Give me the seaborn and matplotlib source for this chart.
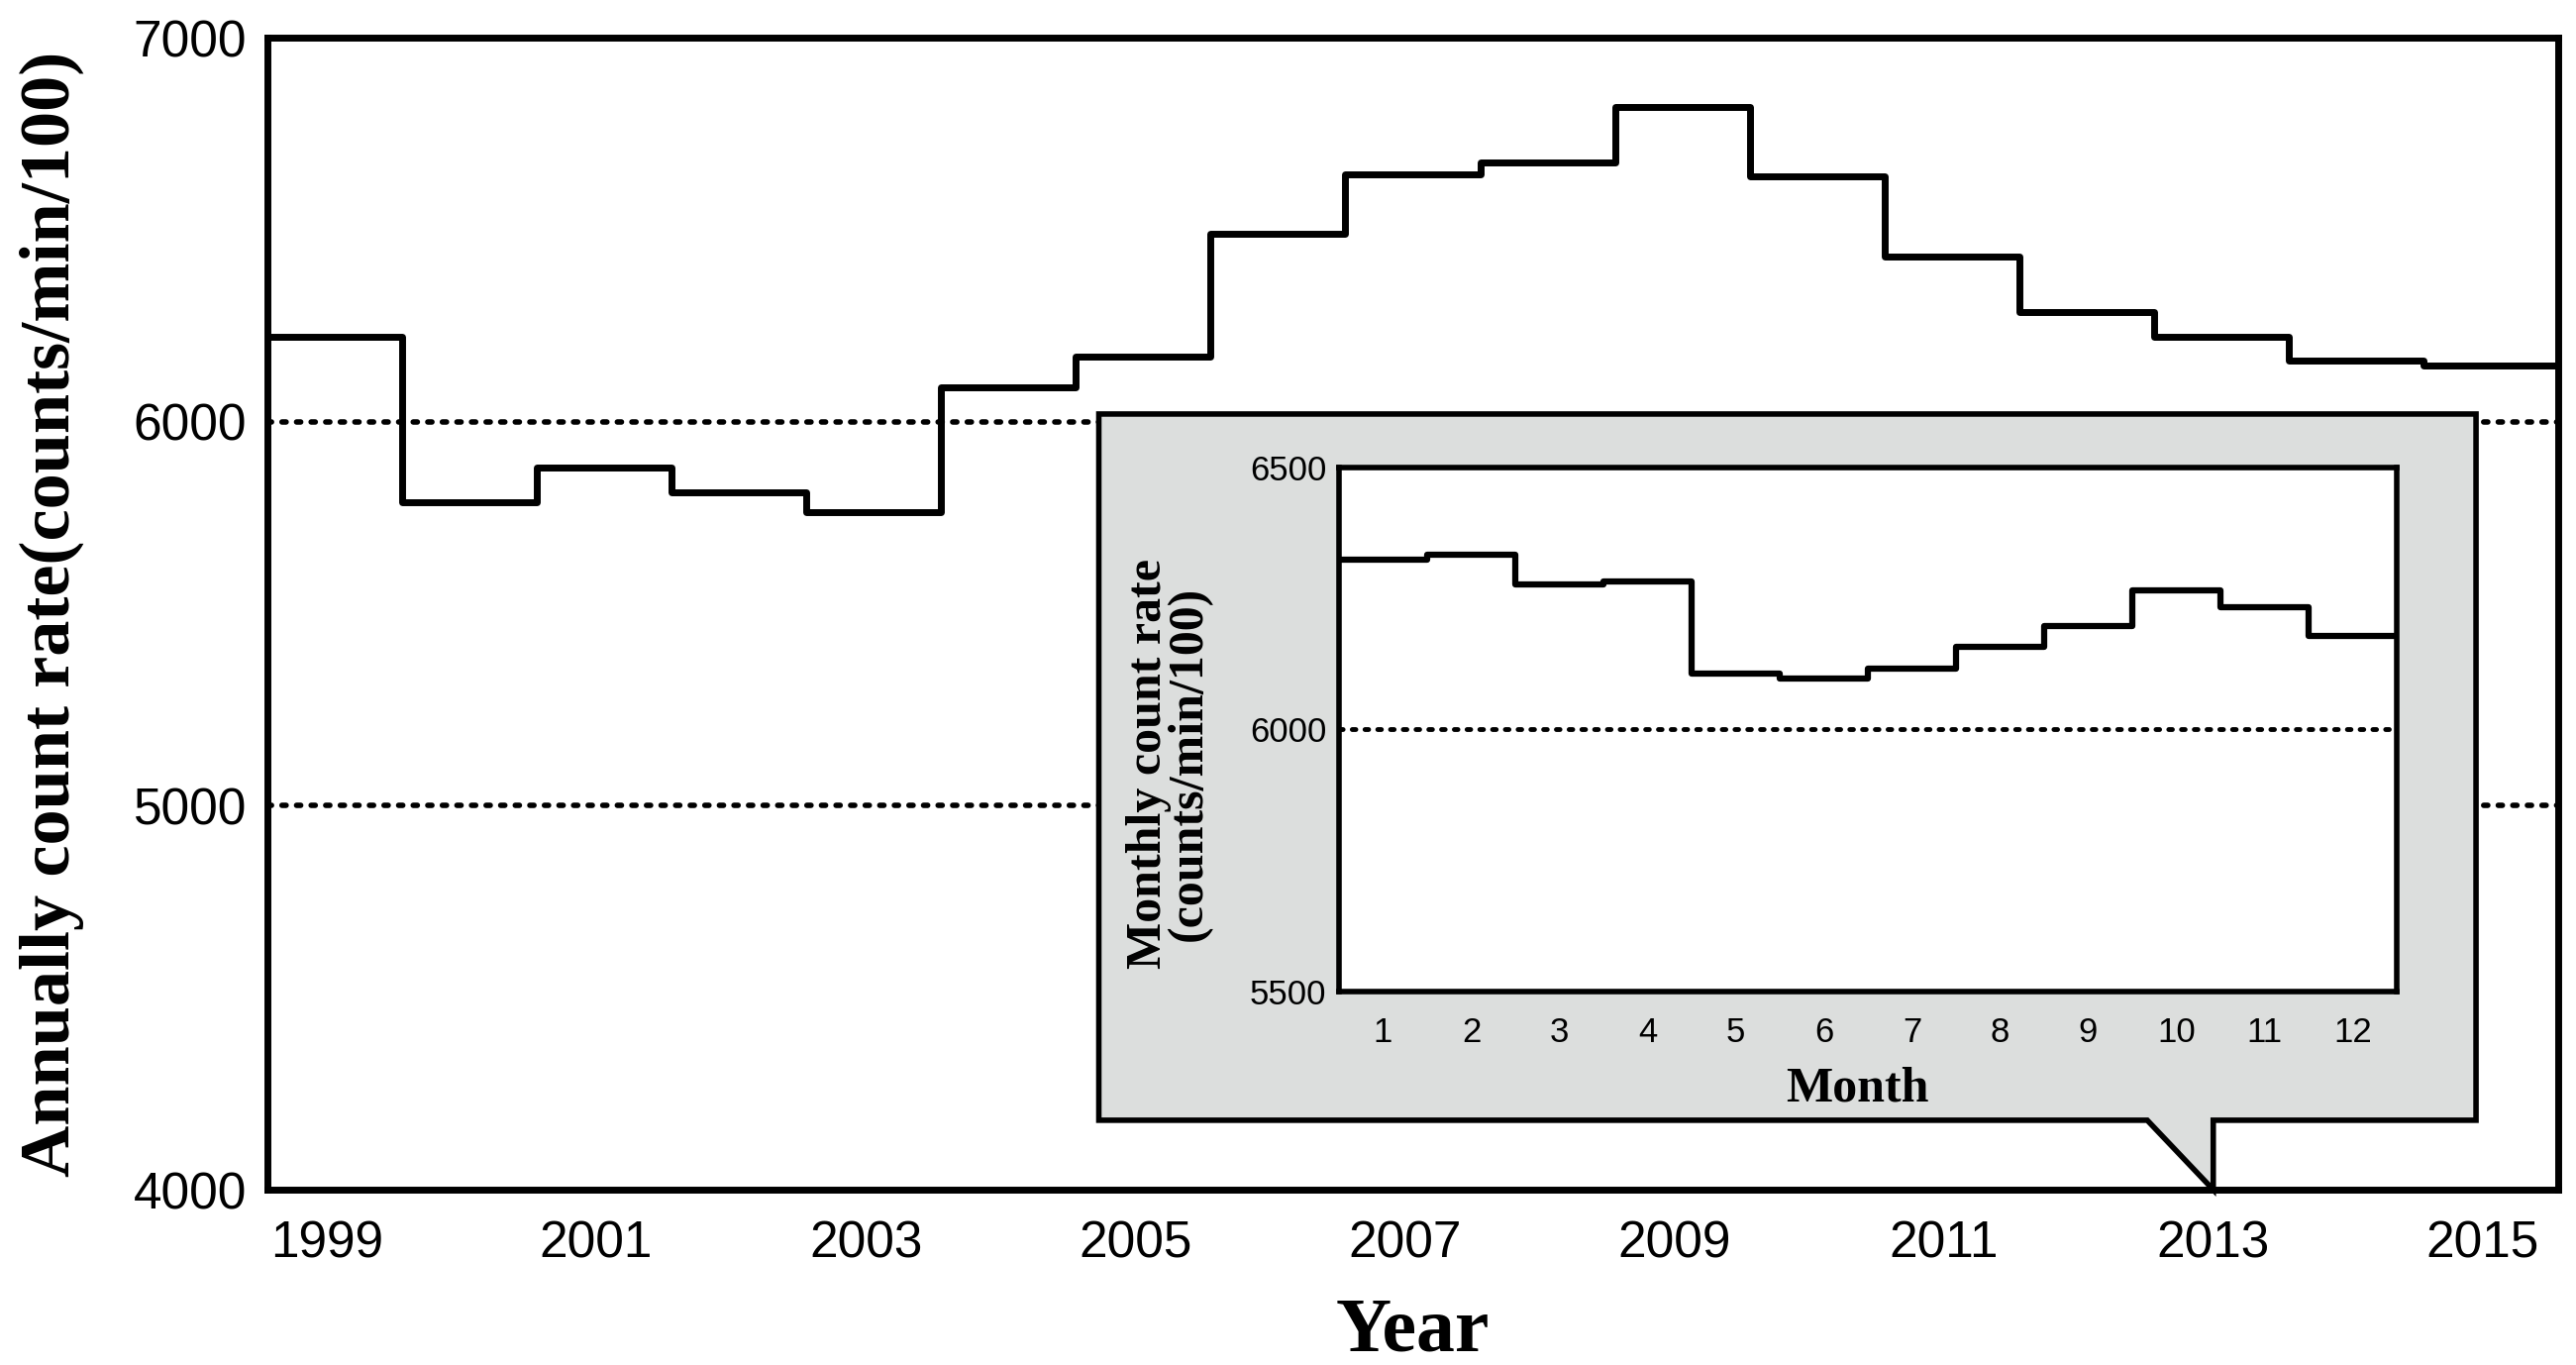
import matplotlib
matplotlib.use("Agg")
import matplotlib.pyplot as plt
from matplotlib.patches import Polygon
import pandas as pd
import seaborn as sns

YEARS = list(range(1999, 2016))
ANNUAL_RATE = [6220, 5790, 5880, 5815, 5765, 6090, 6170, 6490, 6645, 6675,
               6820, 6640, 6430, 6285, 6220, 6160, 6145]
YEAR_TICKS = list(range(1999, 2016, 2))
ANNUAL_YTICKS = [4000, 5000, 6000, 7000]
ANNUAL_REFS = [5000, 6000]

MONTHS = list(range(1, 13))
MONTHLY_RATE = [6325, 6333, 6276, 6282, 6106, 6097, 6116, 6157, 6197, 6266, 6234, 6179]
MONTHLY_YTICKS = [5500, 6000, 6500]
MONTHLY_REFS = [6000]

NARROW = ["Liberation Sans Narrow", "Liberation Sans", "DejaVu Sans"]
SERIF = ["Liberation Serif", "DejaVu Serif"]
BOX_GRAY = "#dcdedd"


def step_frame(xs, ys, lo, hi):
    # each value spans [x - lo, x + hi]; repeat last value to close the final step
    edges = [x - lo for x in xs] + [xs[-1] + hi]
    vals = list(ys) + [ys[-1]]
    return pd.DataFrame({"x": edges, "y": vals})


def dotted(ax, y, lw):
    ax.axhline(y, color="black", lw=lw, linestyle=(0, (0.75, 1.9)),
               dash_capstyle="round", zorder=2)


sns.set_theme(style="white")
plt.rcParams.update({
    "axes.edgecolor": "black",
    "axes.linewidth": 5,
    "axes.labelcolor": "black",
    "text.color": "black",
    "xtick.color": "black",
    "ytick.color": "black",
})

fig = plt.figure(figsize=(26.01, 13.78), dpi=100)
ax = fig.add_axes([0.1038, 0.1284, 0.8893, 0.8440])

annual = step_frame(YEARS, ANNUAL_RATE, 0.44, 0.56)
sns.lineplot(data=annual, x="x", y="y", drawstyle="steps-post", color="black",
             lw=5, estimator=None, sort=False, ax=ax, zorder=3)
for y in ANNUAL_REFS:
    dotted(ax, y, 4)

ax.set_xlim(YEARS[0] - 0.44, YEARS[-1] + 0.56)
ax.set_ylim(ANNUAL_YTICKS[0], ANNUAL_YTICKS[-1])
ax.set_xticks(YEAR_TICKS)
ax.set_yticks(ANNUAL_YTICKS)
ax.tick_params(axis="x", direction="in", length=16, width=1.2, pad=22)
ax.tick_params(axis="y", length=0, pad=15)
for lab in ax.get_xticklabels() + ax.get_yticklabels():
    lab.set_family(NARROW)
    lab.set_fontsize(37)

ax.set_xlabel("Year", family=SERIF, fontweight="bold", fontsize=56)
ax.set_ylabel("Annually count rate(counts/min/100)", family=SERIF,
              fontweight="bold", fontsize=52)
ax.xaxis.set_label_coords(0.5, -0.093)
ax.yaxis.set_label_coords(-0.08, 0.5)

# callout box behind the inset, pointing at 2013 on the year axis
callout = Polygon(
    [(2004.73, 6020), (2014.95, 6020), (2014.95, 4181), (2013.0, 4181),
     (2013.0, 4000), (2012.51, 4181), (2004.73, 4181)],
    closed=True, facecolor=BOX_GRAY, edgecolor="black", lw=4,
    joinstyle="miter", transform=ax.transData, clip_on=False, zorder=5,
)
ax.add_patch(callout)

ins = fig.add_axes([0.5198, 0.2736, 0.4106, 0.3839])
ins.set_facecolor("white")
monthly = step_frame(MONTHS, MONTHLY_RATE, 0.5, 0.5)
sns.lineplot(data=monthly, x="x", y="y", drawstyle="steps-post", color="black",
             lw=4.5, estimator=None, sort=False, ax=ins, zorder=3)
for y in MONTHLY_REFS:
    dotted(ins, y, 3.5)

ins.set_xlim(MONTHS[0] - 0.5, MONTHS[-1] + 0.5)
ins.set_ylim(MONTHLY_YTICKS[0], MONTHLY_YTICKS[-1])
ins.set_xticks(MONTHS)
ins.set_yticks(MONTHLY_YTICKS)
ins.tick_params(axis="x", length=0, pad=18)
ins.tick_params(axis="y", length=0, pad=9)
for lab in ins.get_xticklabels() + ins.get_yticklabels():
    lab.set_family(NARROW)
    lab.set_fontsize(25)
for spine in ins.spines.values():
    spine.set_linewidth(4)

ins.set_xlabel("Month", family=SERIF, fontweight="bold", fontsize=36)
ins.set_ylabel("Monthly count rate\n(counts/min/100)", family=SERIF,
               fontweight="bold", fontsize=36, linespacing=0.85)
ins.xaxis.set_label_coords(0.49, -0.143)
ins.yaxis.set_label_coords(-0.12, 0.435)

fig.savefig("out.png", dpi=100, facecolor="white")
